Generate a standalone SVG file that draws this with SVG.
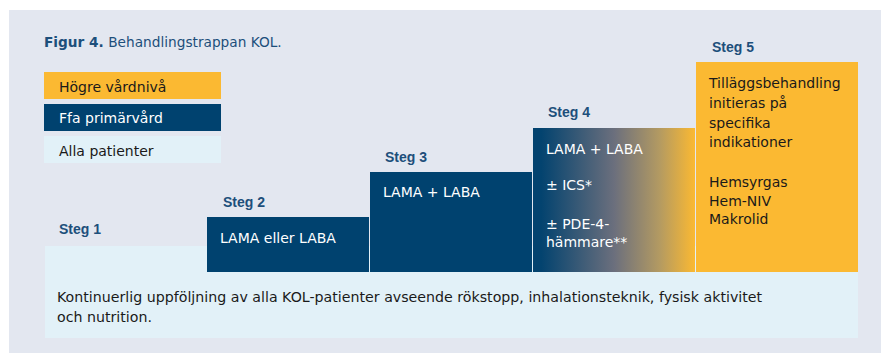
<svg xmlns="http://www.w3.org/2000/svg" width="881" height="353" viewBox="0 0 881 353">
<defs>
<linearGradient id="g4" x1="0" y1="0" x2="1" y2="0">
<stop offset="0.05" stop-color="#03436f"/>
<stop offset="0.5" stop-color="#6b6f7d"/>
<stop offset="0.78" stop-color="#b39a62"/>
<stop offset="1" stop-color="#fbb932"/>
</linearGradient>
<style>
text{font-family:"DejaVu Sans","Liberation Sans",sans-serif;font-size:14px}
.steg{fill:#1d4f7b;font-weight:bold;font-family:"Liberation Sans","DejaVu Sans",sans-serif}
.w{fill:#ffffff}
.k{fill:#1a1a1a}
.blue{fill:#00426f}
.yel{fill:#fbb932}
.lt{fill:#e2f1f8}
</style>
</defs>
<rect x="0" y="0" width="881" height="353" fill="#ffffff"/>
<rect x="9" y="10" width="872" height="343" fill="#e3e7f0"/>
<text x="44" y="47" fill="#1d4f7b" style="font-size:13.7px"><tspan font-weight="bold">Figur 4.</tspan> Behandlingstrappan KOL.</text>
<g id="legend">
<rect x="44" y="72" width="177" height="27" class="yel"/>
<text x="59" y="92" class="k">Högre vårdnivå</text>
<rect x="44" y="104" width="177" height="27" class="blue"/>
<text x="59" y="123" class="w">Ffa primärvård</text>
<rect x="44" y="136" width="177" height="27" class="lt"/>
<text x="59" y="156" class="k">Alla patienter</text>
</g>
<g id="base">
<rect x="45" y="246" width="813" height="92" class="lt"/>
<text x="57" y="302" class="k" style="font-size:14.2px">Kontinuerlig uppföljning av alla KOL-patienter avseende rökstopp, inhalationsteknik, fysisk aktivitet</text>
<text x="57" y="322" class="k" style="font-size:14.2px">och nutrition.</text>
</g>
<g id="steg1">
<text x="59" y="234" class="steg">Steg 1</text>
</g>
<g id="steg2">
<text x="223" y="207" class="steg">Steg 2</text>
<rect x="207" y="217" width="162" height="55" class="blue"/>
<text x="220" y="243" class="w">LAMA eller LABA</text>
</g>
<g id="steg3">
<text x="385" y="162" class="steg">Steg 3</text>
<rect x="370" y="172" width="162" height="100" class="blue"/>
<text x="383" y="197" class="w">LAMA + LABA</text>
</g>
<g id="steg4">
<text x="548" y="117" class="steg">Steg 4</text>
<rect x="533" y="128" width="162" height="144" fill="url(#g4)"/>
<text x="546" y="154" class="w">LAMA + LABA</text>
<text x="546" y="190" class="w">± ICS*</text>
<text x="546" y="229" class="w">± PDE-4-</text>
<text x="546" y="247" class="w">hämmare**</text>
</g>
<g id="steg5">
<text x="712" y="52" class="steg">Steg 5</text>
<rect x="696" y="62" width="162" height="210" class="yel"/>
<text x="709" y="88" class="k">Tilläggsbehandling</text>
<text x="709" y="108" class="k">initieras på</text>
<text x="709" y="128" class="k">specifika</text>
<text x="709" y="147" class="k">indikationer</text>
<text x="709" y="187" class="k">Hemsyrgas</text>
<text x="709" y="206" class="k">Hem-NIV</text>
<text x="709" y="224" class="k">Makrolid</text>
</g>
<g id="connectors"></g>
</svg>
